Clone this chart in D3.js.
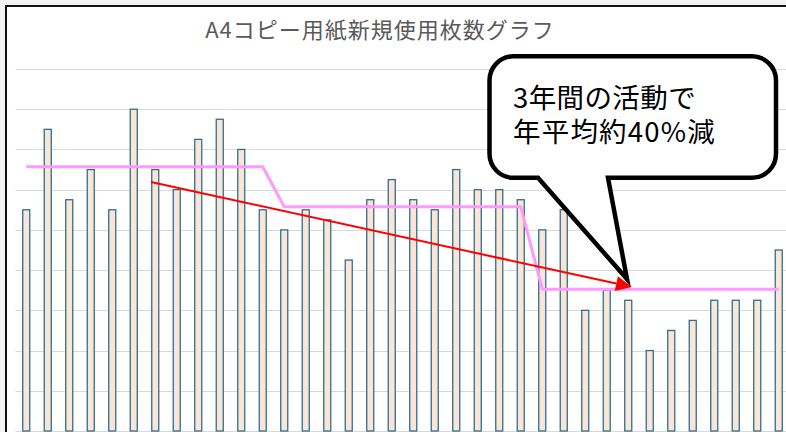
<!DOCTYPE html>
<html><head><meta charset="utf-8">
<script src="https://cdn.jsdelivr.net/npm/d3@7"></script>
<style>
html,body{margin:0;padding:0;background:#f3f3f3;overflow:hidden;}
svg{display:block;}
</style></head>
<body>
<svg id="c" width="786" height="432"></svg>
<script>
// ---- data ----
const categories = [
  "1年目4月","1年目5月","1年目6月","1年目7月","1年目8月","1年目9月","1年目10月","1年目11月","1年目12月","1年目1月","1年目2月","1年目3月",
  "2年目4月","2年目5月","2年目6月","2年目7月","2年目8月","2年目9月","2年目10月","2年目11月","2年目12月","2年目1月","2年目2月","2年目3月",
  "3年目4月","3年目5月","3年目6月","3年目7月","3年目8月","3年目9月","3年目10月","3年目11月","3年目12月","3年目1月","3年目2月","3年目3月"
];
const usage = [
  11000,15000,11500,13000,11000,16000,13000,12000,14500,15500,14000,11000,
  10000,11000,10500, 8500,11500,12500,11500,11000,13000,12000,12000,11500,
  10000,11000, 6000, 7000, 6500, 4000, 5000, 5500, 6500, 6500, 6500, 9000
];
const yearAverages = [13140, 11150, 7050];
const yTicks = [0,2000,4000,6000,8000,10000,12000,14000,16000,18000];
const titleText = "A4コピー用紙新規使用枚数グラフ";
const calloutLines = ["3年間の活動で","年平均約40%減"];
// trend arrow annotation: [category position, value]
const trendStart = [5.8, 12380];
const trendEnd = [28.17, 7160];

// ---- layout ----
const svg = d3.select("#c");
const W = 786, H = 432;
const plot = {left: 15.5, right: 789.5, top: 69, bottom: 431};

// outer frame
svg.append("rect").attr("x",6).attr("y",6).attr("width",W+20).attr("height",H+20)
  .attr("fill","#ffffff").attr("stroke","#111").attr("stroke-width",2);

const x = d3.scaleBand().domain(categories).range([plot.left, plot.right])
  .paddingInner(0.674).paddingOuter(0.337);
const y = d3.scaleLinear().domain([0,18000]).range([plot.bottom, plot.top]);
const step = x.step();
const cx = i => x(categories[0]) + x.bandwidth()/2 + step * i;

// gridlines
svg.append("g").selectAll("line").data(yTicks).join("line")
  .attr("x1",plot.left).attr("x2",W)
  .attr("y1",d=>Math.round(y(d))+0.5).attr("y2",d=>Math.round(y(d))+0.5)
  .attr("stroke","#d9d9d9").attr("stroke-width",1);

// title
svg.append("text").attr("x",380).attr("y",38)
  .attr("text-anchor","middle")
  .attr("font-family","'Noto Sans CJK JP','Noto Sans',sans-serif")
  .attr("font-size",22).attr("letter-spacing",1).attr("fill","#595959")
  .text(titleText);

// bars
svg.append("g").selectAll("rect").data(usage).join("rect")
  .attr("x",(d,i)=>x(categories[i]))
  .attr("y",d=>y(d))
  .attr("width",x.bandwidth())
  .attr("height",d=>y(0)-y(d))
  .attr("fill","#fbe5d6").attr("stroke","#2f6f8e").attr("stroke-width",1.3);

// yearly average line
const avgSeries = categories.map((c,i)=>yearAverages[Math.floor(i/12)]);
svg.append("path").datum(avgSeries)
  .attr("d", d3.line().x((d,i)=>cx(i)).y(d=>y(d)))
  .attr("fill","none").attr("stroke","#ff99ff").attr("stroke-width",3)
  .attr("stroke-linejoin","round");

// red trend arrow
const ax0 = cx(trendStart[0]), ay0 = y(trendStart[1]);
const ax1 = cx(trendEnd[0]), ay1 = y(trendEnd[1]);
const ang = Math.atan2(ay1-ay0, ax1-ax0);
const hl = 16, hw = 7.5;
const bx = ax1 - hl*Math.cos(ang), by = ay1 - hl*Math.sin(ang);
svg.append("line").attr("x1",ax0).attr("y1",ay0).attr("x2",bx).attr("y2",by)
  .attr("stroke","#ff0000").attr("stroke-width",2);
svg.append("path")
  .attr("d", `M${ax1},${ay1}L${bx + hw*Math.sin(ang)},${by - hw*Math.cos(ang)}L${bx - hw*Math.sin(ang)},${by + hw*Math.cos(ang)}Z`)
  .attr("fill","#ff0000");

// callout balloon
const cb = {l:489.5, t:56.3, r:776, b:177.8, rad:24};
const tail = {bl:538, br:608, tx:627, ty:279};
const p = d3.path();
p.moveTo(cb.l+cb.rad, cb.t);
p.lineTo(cb.r-cb.rad, cb.t);
p.arcTo(cb.r, cb.t, cb.r, cb.t+cb.rad, cb.rad);
p.lineTo(cb.r, cb.b-cb.rad);
p.arcTo(cb.r, cb.b, cb.r-cb.rad, cb.b, cb.rad);
p.lineTo(tail.br, cb.b);
p.lineTo(tail.tx, tail.ty);
p.lineTo(tail.bl, cb.b);
p.lineTo(cb.l+cb.rad, cb.b);
p.arcTo(cb.l, cb.b, cb.l, cb.b-cb.rad, cb.rad);
p.lineTo(cb.l, cb.t+cb.rad);
p.arcTo(cb.l, cb.t, cb.l+cb.rad, cb.t, cb.rad);
p.closePath();
svg.append("path").attr("d",p.toString())
  .attr("fill","#ffffff").attr("stroke","#000").attr("stroke-width",4.5)
  .attr("stroke-linejoin","miter").attr("stroke-miterlimit",10);

// callout text: one text element, two lines
const ct = svg.append("text")
  .attr("font-family","'Noto Sans CJK JP','Noto Sans',sans-serif")
  .attr("font-size",27.5).attr("fill","#000");
ct.selectAll("tspan").data(calloutLines).join("tspan")
  .attr("x",513).attr("y",(d,i)=>108+i*34)
  .attr("letter-spacing",(d,i)=>i===1?1.2:0.4)
  .text(d=>d);
</script>
</body></html>
